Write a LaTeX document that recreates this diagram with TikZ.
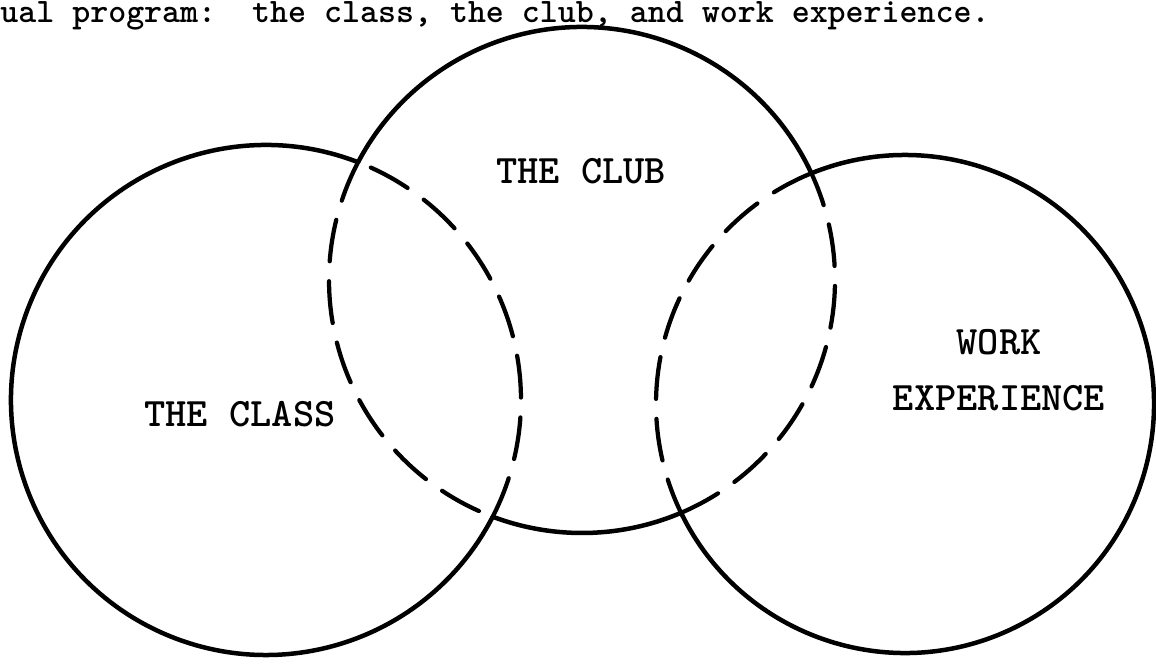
\documentclass[tikz,border=0pt]{standalone}
\usepackage{tikz}
\begin{document}
\begin{tikzpicture}[x=0.02cm,y=0.02cm,
  ring/.style={line width=0.09cm},
  ringdash/.style={line width=0.085cm,line cap=round,dash pattern=on 0.84cm off 0.40cm},
  lab/.style={font=\fontsize{23}{32}\selectfont\ttfamily\bfseries,align=center,inner sep=0pt}]
\useasboundingbox (0,0) rectangle (1156,667);
% caption line at the top edge
\node[anchor=base west,inner sep=0pt,font=\fontsize{19.5}{22}\selectfont\ttfamily\bfseries\frenchspacing]
  (caption) at (0,644) {ual program:\ \ the class, the club, and work experience.};
% centres of the three rings
\coordinate (cls) at (266,267);
\coordinate (club) at (582,387);
\coordinate (work) at (905,263);
% (i) the class
\draw[ring] (cls) ++(68.8:255) arc[start angle=68.8,end angle=332.7,radius=255];
\draw[ringdash] (cls) ++(-27.3:255) arc[start angle=-27.3,end angle=68.8,radius=255];
\node[lab] (classlab) at (240,253) {THE CLASS};
% (ii) the club
\draw[ring] (club) ++(24.9:253) arc[start angle=24.9,end angle=152.2,radius=253];
\draw[ring] (club) ++(249.3:253) arc[start angle=249.3,end angle=293,radius=253];
\draw[ringdash] (club) ++(152.2:253) arc[start angle=152.2,end angle=249.3,radius=253];
\draw[ringdash] (club) ++(-67:253) arc[start angle=-67,end angle=24.9,radius=253];
\node[lab] (clublab) at (581,496) {THE CLUB};
% (iii) work experience
\draw[ring] (work) ++(205.9:249) arc[start angle=205.9,end angle=472.1,radius=249];
\draw[ringdash] (work) ++(112.1:249) arc[start angle=112.1,end angle=205.9,radius=249];
\node[lab] (worklab) at (999,297) {WORK\\EXPERIENCE};
\end{tikzpicture}
\end{document}
